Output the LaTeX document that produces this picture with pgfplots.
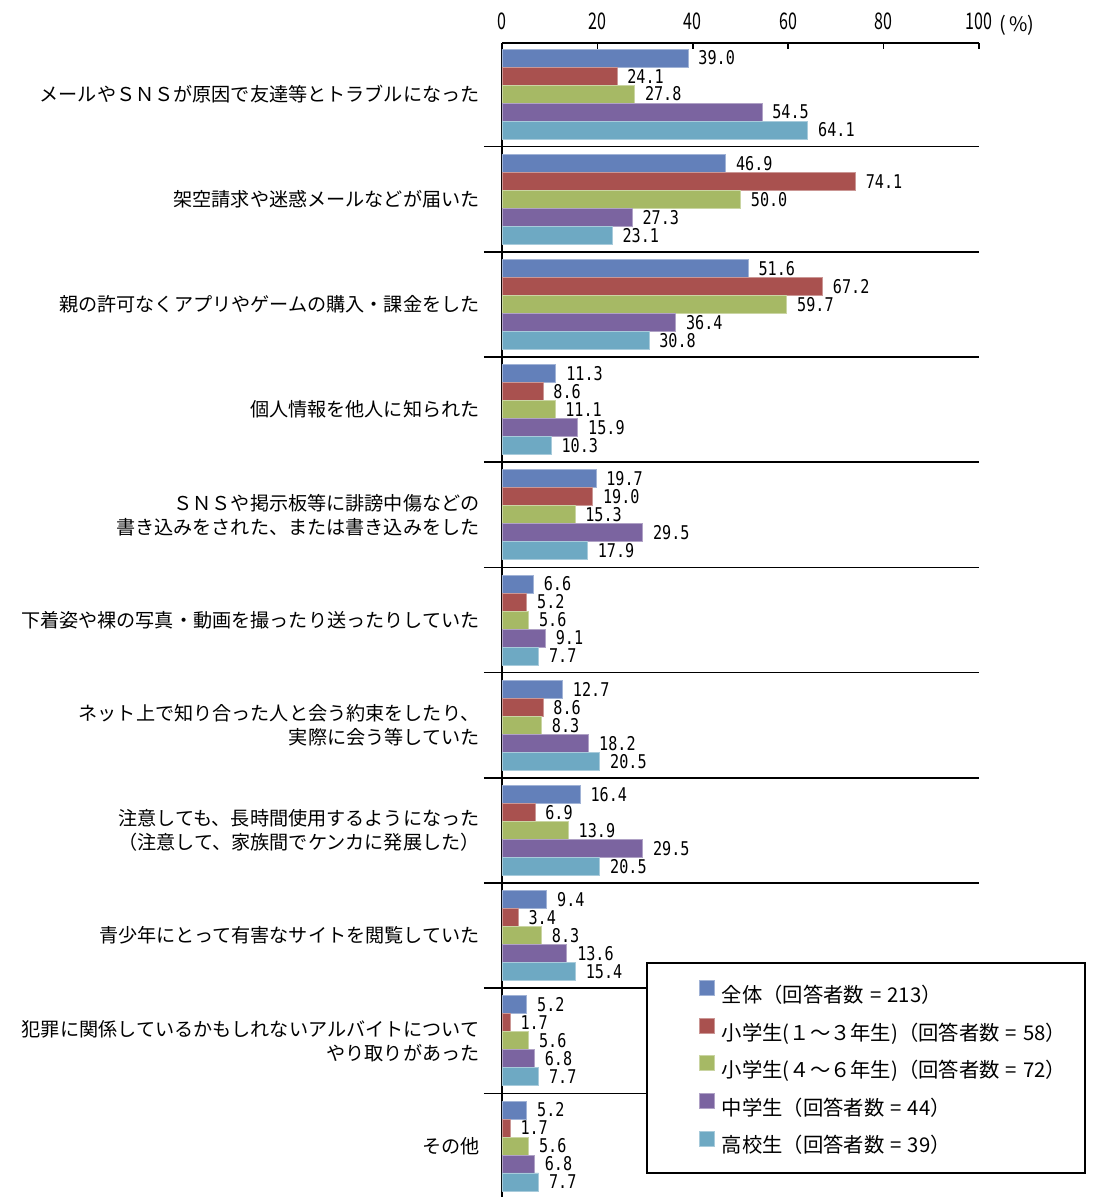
\documentclass[border=0pt]{standalone}
\usepackage{fontspec}
\setmainfont{Noto Sans CJK JP}
\newfontfamily\tickfont[FakeStretch=0.7]{Noto Sans CJK JP}
\newfontfamily\valfont[FakeStretch=0.8]{DejaVu Sans Mono}
\usepackage{pgfplots}
\pgfplotsset{compat=1.18}
\usepackage{pgfplotstable}

\definecolor{cAll}{HTML}{6380BA}
\definecolor{cLow}{HTML}{A9514F}
\definecolor{cMid}{HTML}{A6B965}
\definecolor{cJh}{HTML}{7B64A0}
\definecolor{cHs}{HTML}{6EA9C3}

\newcommand{\eq}{\hspace{0.3em}=\hspace{0.3em}}

% idx: category (top to bottom), values in %
\pgfplotstableread{
idx all  low  mid  jh   hs
0   39.0 24.1 27.8 54.5 64.1
1   46.9 74.1 50.0 27.3 23.1
2   51.6 67.2 59.7 36.4 30.8
3   11.3 8.6  11.1 15.9 10.3
4   19.7 19.0 15.3 29.5 17.9
5   6.6  5.2  5.6  9.1  7.7
6   12.7 8.6  8.3  18.2 20.5
7   16.4 6.9  13.9 29.5 20.5
8   9.4  3.4  8.3  13.6 15.4
9   5.2  1.7  5.6  6.8  7.7
10  5.2  1.7  5.6  6.8  7.7
}\datatable

\begin{document}
\begin{tikzpicture}
\useasboundingbox (-251bp,21.5bp) rectangle (298.5bp,-578.5bp);
\begin{axis}[
    at={(0,0)}, anchor=north west,
    scale only axis, width=238.5bp, height=577bp,
    xbar, bar width=0.171,
    xmin=0, xmax=100, ymin=-0.485, ymax=10.485,
    y dir=reverse,
    axis x line*=top, axis y line*=left,
    axis line style={line width=1.1bp},
    xtick={0,20,...,100},
    tick align=inside,
    major tick length=3bp,
    x tick style={line width=0.8bp, black},
    ytick={0,...,10},
    y tick style={draw=none},
    yticklabels={
      {メールやＳＮＳが原因で友達等とトラブルになった},
      {架空請求や迷惑メールなどが届いた},
      {親の許可なくアプリやゲームの購入・課金をした},
      {個人情報を他人に知られた},
      {ＳＮＳや掲示板等に誹謗中傷などの\\書き込みをされた、または書き込みをした},
      {下着姿や裸の写真・動画を撮ったり送ったりしていた},
      {ネット上で知り合った人と会う約束をしたり、\\実際に会う等していた},
      {注意しても、長時間使用するようになった\\（注意して、家族間でケンカに発展した）},
      {青少年にとって有害なサイトを閲覧していた},
      {犯罪に関係しているかもしれないアルバイトについて\\やり取りがあった},
      {その他}},
    yticklabel style={align=right, font=\fontsize{9.6}{12}\selectfont, inner sep=0pt, xshift=-11bp},
    xticklabel style={font=\tickfont\fontsize{11.5}{12}\selectfont, inner sep=0pt, yshift=6.5bp},
    /pgf/number format/assume math mode=true,
    xlabel={(\,\%)},
    xlabel style={at={(axis description cs:1,1)}, anchor=south west, inner sep=0pt,
      xshift=10bp, yshift=3.5bp, font=\fontsize{10}{12}\selectfont},
    clip=false,
    point meta=x,
    nodes near coords,
    every node near coord/.append style={font=\valfont\fontsize{9.5}{10}\selectfont,
      anchor=west, inner sep=0pt, xshift=5bp, black,
      /pgf/number format/.cd, fixed, zerofill, precision=1},
    legend cell align=left,
    legend style={at={(axis description cs:0.302,0.2036)}, anchor=north west,
      draw=black, line width=1bp, fill=white,
      inner xsep=9.5bp, inner ysep=8.6bp, row sep=6.2bp,
      font=\fontsize{10.2}{11}\selectfont,
      nodes={inner sep=0pt},
      /tikz/every odd column/.append style={column sep=3.5bp}},
    legend image code/.code={\path (0bp,0bp); \fill[#1] (16.5bp,-0.2bp) rectangle (24bp,7.3bp);},
  ]
  \pgfplotsinvokeforeach{0.5,1.5,...,9.5}{
    \draw[line width=0.75bp] (axis cs:-3.8,#1) -- (axis cs:100,#1);
  }
  \addplot[fill=cAll, draw=cAll!60!white, line width=0.4bp, bar shift=-0.342] table[x=all, y=idx] {\datatable};
  \addplot[fill=cLow, draw=cLow!60!white, line width=0.4bp, bar shift=-0.171] table[x=low, y=idx] {\datatable};
  \addplot[fill=cMid, draw=cMid!60!white, line width=0.4bp, bar shift=0] table[x=mid, y=idx] {\datatable};
  \addplot[fill=cJh, draw=cJh!60!white, line width=0.4bp, bar shift=0.171] table[x=jh, y=idx] {\datatable};
  \addplot[fill=cHs, draw=cHs!60!white, line width=0.4bp, bar shift=0.342] table[x=hs, y=idx] {\datatable};
  \legend{全体（回答者数\eq 213）, 小学生(１～３年生)（回答者数\eq 58）, 小学生(４～６年生)（回答者数\eq 72）, 中学生（回答者数\eq 44）, 高校生（回答者数\eq 39）}
\end{axis}
\end{tikzpicture}
\end{document}
